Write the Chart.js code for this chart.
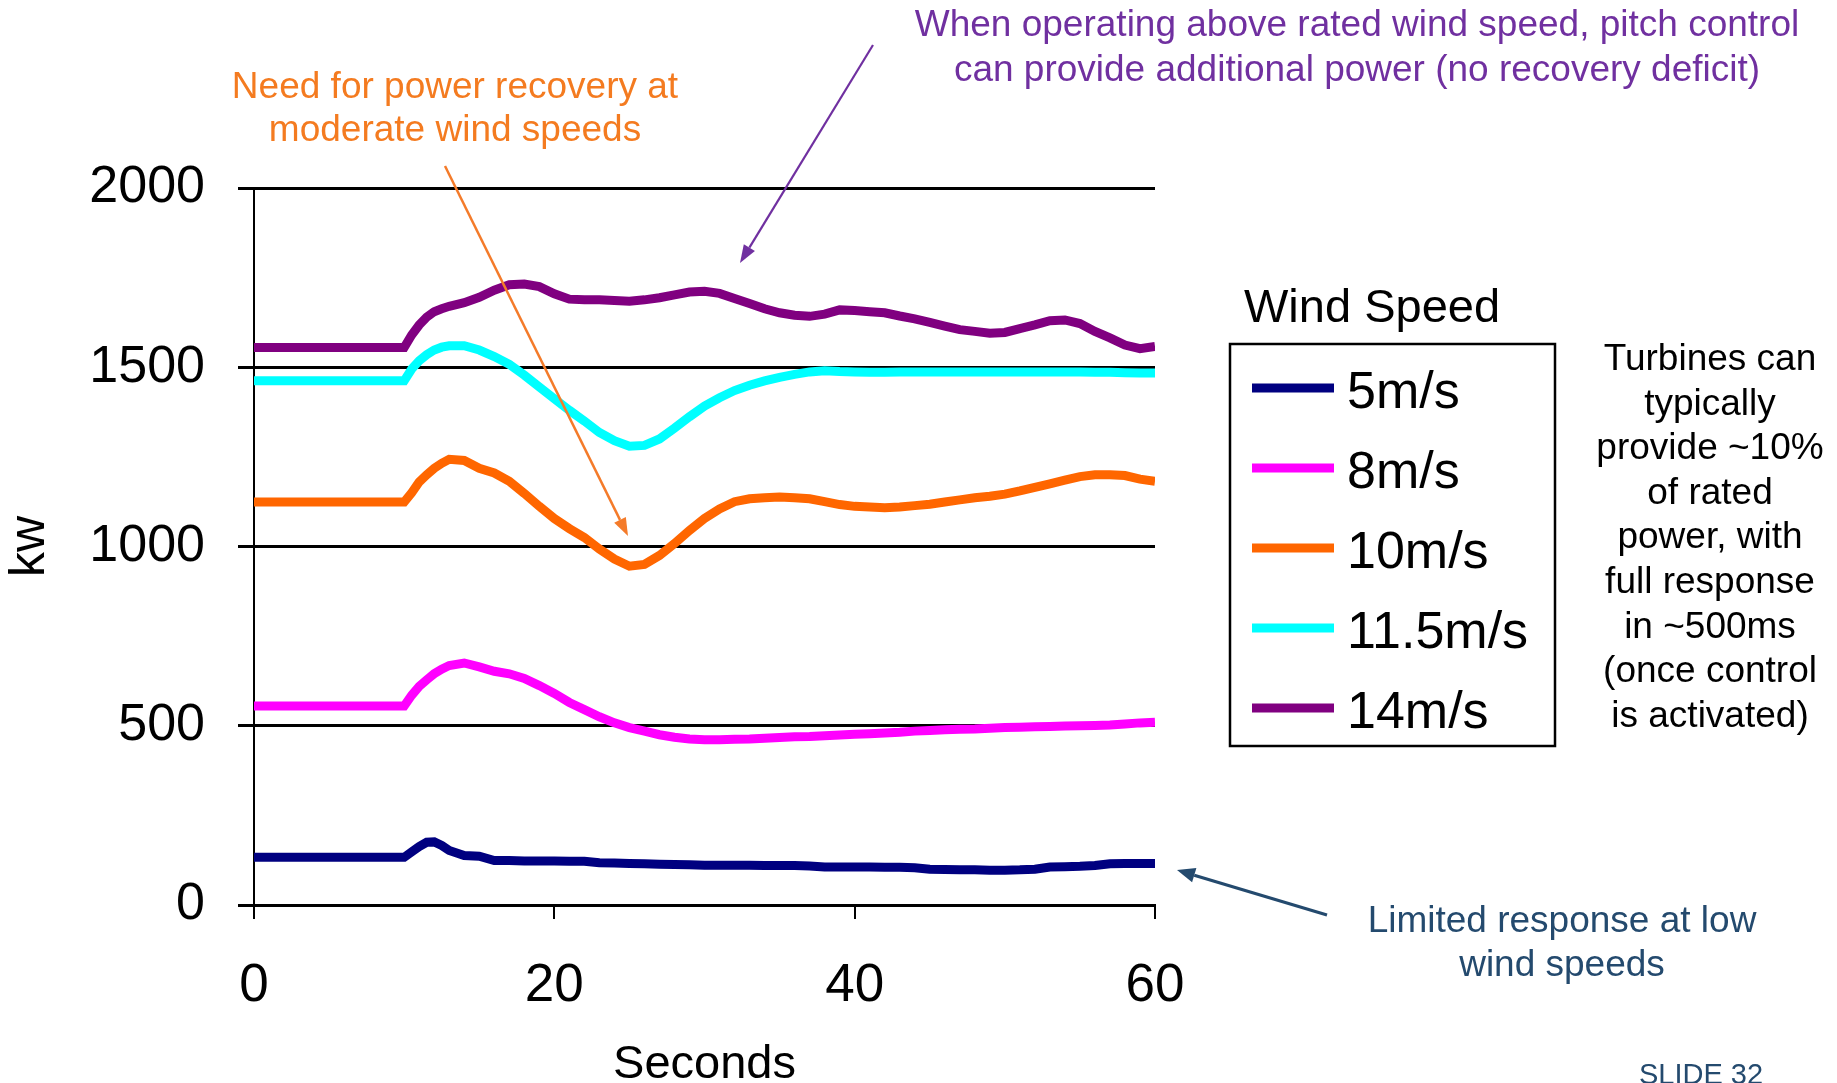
<!DOCTYPE html>
<html>
<head>
<meta charset="utf-8">
<title>Wind turbine power response</title>
<script src="https://cdn.jsdelivr.net/npm/chart.js@4/dist/chart.umd.min.js"></script>
<style>
  html, body { margin: 0; padding: 0; background: #fff; }
  #wrap { width: 1837px; height: 1083px; }
</style>
</head>
<body>
<div id="wrap"><canvas id="powerChart" width="1837" height="1083"></canvas></div>
<script>
// time axis (s) and turbine output (kW) for each wind speed
const seconds = [0, 10, 10.5, 11, 11.5, 12, 12.5, 13, 14, 15, 16, 17, 18, 19, 20, 21, 22, 23, 24, 25, 26, 27, 28, 29, 30, 31, 32, 33, 34, 35, 36, 37, 38, 39, 40, 41, 42, 43, 44, 45, 46, 47, 48, 49, 50, 51, 52, 53, 54, 55, 56, 57, 58, 59, 60];

const speed5 = [133, 133, 148, 163, 175, 176, 166, 152, 138, 136, 124, 124, 123, 123, 123, 122, 122, 118, 117, 116, 115, 114, 113, 112, 111, 111, 111, 111, 110, 110, 110, 109, 106, 106, 106, 106, 105, 105, 104, 100, 99, 98, 98, 97, 97, 98, 100, 106, 107, 108, 110, 115, 116, 116, 116];
const speed8 = [555, 555, 585, 610, 628, 645, 658, 668, 675, 664, 652, 645, 632, 612, 590, 565, 545, 525, 508, 495, 485, 475, 468, 463, 461, 461, 462, 463, 465, 467, 469, 470, 472, 474, 476, 478, 480, 482, 485, 487, 489, 490, 491, 493, 495, 496, 497, 498, 499, 500, 501, 502, 505, 508, 510];
const speed10 = [1124, 1124, 1150, 1180, 1200, 1218, 1232, 1243, 1240, 1218, 1205, 1182, 1148, 1112, 1078, 1050, 1025, 993, 965, 945, 950, 975, 1008, 1045, 1078, 1105, 1125, 1133, 1136, 1138, 1136, 1133, 1125, 1117, 1112, 1110, 1108, 1110, 1114, 1118, 1124, 1130, 1136, 1140, 1146, 1155, 1165, 1175, 1185, 1195, 1200, 1200, 1198, 1188, 1182];
const speed11_5 = [1462, 1462, 1495, 1518, 1535, 1548, 1556, 1560, 1560, 1548, 1530, 1508, 1478, 1445, 1412, 1380, 1350, 1318, 1295, 1280, 1282, 1300, 1330, 1362, 1392, 1415, 1435, 1450, 1462, 1472, 1480, 1487, 1490, 1488, 1487, 1486, 1486, 1487, 1487, 1487, 1487, 1487, 1487, 1487, 1487, 1487, 1487, 1487, 1487, 1487, 1486, 1486, 1485, 1484, 1484];
const speed14 = [1555, 1555, 1590, 1618, 1640, 1655, 1663, 1670, 1680, 1695, 1715, 1730, 1732, 1725, 1705, 1690, 1688, 1688, 1686, 1684, 1688, 1694, 1702, 1710, 1712, 1706, 1692, 1678, 1663, 1652, 1645, 1642, 1648, 1660, 1658, 1655, 1652, 1643, 1635, 1625, 1615, 1605, 1600, 1595, 1597, 1608, 1618, 1630, 1632, 1622, 1600, 1582, 1562, 1552, 1558];

const seriesLabels = ["5m/s", "8m/s", "10m/s", "11.5m/s", "14m/s"];
const seriesColors = ["#000080", "#FF00FF", "#FF6600", "#00FFFF", "#800080"];
const seriesValues = [speed5, speed8, speed10, speed11_5, speed14];

const xTicks = [0, 20, 40, 60];
const yTicks = [0, 500, 1000, 1500, 2000];

const FONT = '"Liberation Sans", Arial, sans-serif';
Chart.defaults.font.family = FONT;
Chart.defaults.color = "#000";

function drawArrow(ctx, x1, y1, x2, y2, color, width, headLen, headW) {
    const ang = Math.atan2(y2 - y1, x2 - x1);
    const bx = x2 - headLen * Math.cos(ang);
    const by = y2 - headLen * Math.sin(ang);
    ctx.strokeStyle = color;
    ctx.lineWidth = width;
    ctx.beginPath();
    ctx.moveTo(x1, y1);
    ctx.lineTo(bx, by);
    ctx.stroke();
    ctx.fillStyle = color;
    ctx.beginPath();
    ctx.moveTo(x2, y2);
    ctx.lineTo(bx + headW / 2 * Math.sin(ang), by - headW / 2 * Math.cos(ang));
    ctx.lineTo(bx - headW / 2 * Math.sin(ang), by + headW / 2 * Math.cos(ang));
    ctx.closePath();
    ctx.fill();
}

function drawLines(ctx, lines, x, y0, step, font, color) {
    ctx.font = font;
    ctx.fillStyle = color;
    ctx.textAlign = "center";
    ctx.textBaseline = "alphabetic";
    lines.forEach((t, i) => ctx.fillText(t, x, y0 + i * step));
}

// legend box plus the callout texts and arrows around the plot
const calloutPlugin = {
    id: "callouts",
    afterDatasetsDraw(chart) {
        const ctx = chart.ctx;
        ctx.save();

        // legend
        ctx.font = "47px " + FONT;
        ctx.fillStyle = "#000";
        ctx.textAlign = "left";
        ctx.textBaseline = "alphabetic";
        ctx.fillText("Wind Speed", 1244, 322);
        ctx.strokeStyle = "#000";
        ctx.lineWidth = 2.5;
        ctx.strokeRect(1230, 344, 325, 402);
        ctx.font = "52px " + FONT;
        seriesLabels.forEach((label, i) => {
            const cy = 388 + i * 80;
            ctx.strokeStyle = seriesColors[i];
            ctx.lineWidth = 9;
            ctx.beginPath();
            ctx.moveTo(1252, cy);
            ctx.lineTo(1334, cy);
            ctx.stroke();
            ctx.fillStyle = "#000";
            ctx.fillText(label, 1347, cy + 20);
        });

        // side note
        drawLines(ctx, ["Turbines can", "typically", "provide ~10%", "of rated", "power, with",
            "full response", "in ~500ms", "(once control", "is activated)"],
            1710, 370, 44.6, "37px " + FONT, "#000");

        // callouts
        drawLines(ctx, ["Need for power recovery at", "moderate wind speeds"],
            455, 98, 43, "37px " + FONT, "#F47B20");
        drawLines(ctx, ["When operating above rated wind speed, pitch control",
            "can provide additional power (no recovery deficit)"],
            1357, 36, 45, "37px " + FONT, "#7030A0");
        drawLines(ctx, ["Limited response at low", "wind speeds"],
            1562, 932, 44, "37px " + FONT, "#244A6E");

        drawArrow(ctx, 445, 166, 628, 536, "#F47B2A", 2.5, 18, 13);
        drawArrow(ctx, 873, 45, 740, 263, "#7030A0", 2.2, 18, 13);
        drawArrow(ctx, 1327, 915, 1177, 870, "#244A6E", 3.2, 18, 15);

        ctx.font = "29px " + FONT;
        ctx.fillStyle = "#244A6E";
        ctx.textAlign = "left";
        ctx.fillText("SLIDE 32", 1639, 1084);

        ctx.restore();
    }
};

new Chart(document.getElementById("powerChart"), {
    type: "line",
    data: {
        datasets: seriesLabels.map((label, i) => ({
            label: label,
            data: seconds.map((s, j) => ({ x: s, y: seriesValues[i][j] })),
            borderColor: seriesColors[i],
            backgroundColor: seriesColors[i],
            borderWidth: 9,
            pointRadius: 0,
            tension: 0,
            fill: false
        }))
    },
    options: {
        responsive: false,
        animation: false,
        layout: {
            padding: { top: 188, right: 682, left: 0, bottom: 0 }
        },
        plugins: {
            legend: { display: false },
            tooltip: { enabled: false }
        },
        scales: {
            x: {
                type: "linear",
                min: 0,
                max: 60,
                afterBuildTicks: (scale) => { scale.ticks = xTicks.map(v => ({ value: v })); },
                afterFit: (scale) => { scale.height = 178; },
                grid: {
                    drawOnChartArea: false,
                    drawTicks: true,
                    tickLength: 14,
                    color: "#000",
                    lineWidth: 2
                },
                border: { display: true, color: "#000", width: 3 },
                ticks: {
                    font: { size: 53 },
                    color: "#000",
                    padding: 36,
                    maxRotation: 0,
                    callback: (v) => String(v)
                },
                title: {
                    display: true,
                    text: "Seconds",
                    font: { size: 47, lineHeight: 0.75 },
                    color: "#000",
                    padding: 0
                }
            },
            y: {
                min: 0,
                max: 2000,
                afterBuildTicks: (scale) => { scale.ticks = yTicks.map(v => ({ value: v })); },
                afterFit: (scale) => { scale.width = 254; },
                grid: {
                    color: "#000",
                    lineWidth: 3,
                    drawTicks: true,
                    tickLength: 16
                },
                border: { display: true, color: "#000", width: 2 },
                ticks: {
                    font: { size: 52 },
                    color: "#000",
                    padding: 33,
                    callback: (v) => String(v)
                },
                title: {
                    display: true,
                    text: "kw",
                    font: { size: 50, lineHeight: 1.2 },
                    color: "#000",
                    padding: 0
                }
            }
        }
    },
    plugins: [calloutPlugin]
});
</script>
</body>
</html>
